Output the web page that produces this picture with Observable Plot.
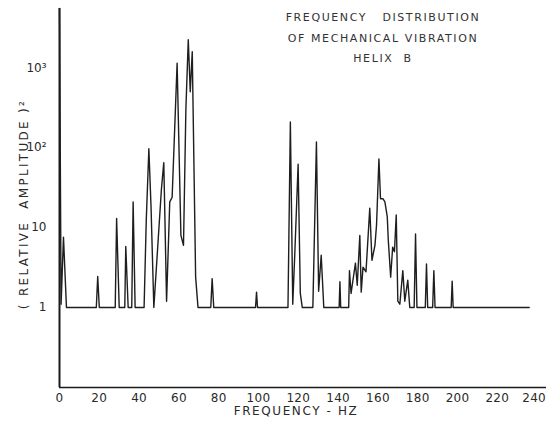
<!DOCTYPE html>
<html><head><meta charset="utf-8">
<script src="https://cdn.jsdelivr.net/npm/d3@7"></script>
<script src="https://cdn.jsdelivr.net/npm/@observablehq/plot@0.6"></script>
<style>
body{margin:0;background:#fff;}
#wrap{position:relative;width:547px;height:429px;overflow:hidden;}
.title{position:absolute;left:233px;width:300px;top:8px;text-align:center;font:11px "DejaVu Sans",sans-serif;letter-spacing:1.6px;color:#333;line-height:20.5px;white-space:pre;}
svg text{fill:#2a2a2a;}
g[aria-label="y-axis label"] text{letter-spacing:2.3px;}
g[aria-label="x-axis label"] text{letter-spacing:1.6px;}
g[aria-label="x-axis tick label"] text{letter-spacing:0.3px;}
</style></head>
<body><div id="wrap"><div class="title">FREQUENCY   DISTRIBUTION
OF MECHANICAL VIBRATION
HELIX  B</div></div>
<script>
// frequency (Hz) and relative amplitude squared
const freq = [0, 0.8, 2, 3.5, 18.5, 19.2, 20, 28, 28.7, 30, 32.8, 33.3, 34.5, 36.3, 37, 38,
  42.5, 43.6, 44.9, 46, 47.4, 51.2, 52.4, 53.8, 55.4, 56.6, 59.1, 61, 62.3, 63.5, 64.7, 65.7, 66.7, 68.4, 69.6,
  76, 76.7, 77.5, 98.5, 99, 99.5,
  114.8, 116, 117.2, 118.2, 119.9, 121, 122, 127.3, 129.1, 130.2, 131.5, 132.8,
  140.5, 140.9, 141.3, 145.3, 145.7, 146.5, 148.7, 149.6, 150.9, 151.6, 152.5, 154, 155.9, 157, 158.5, 159.3,
  160.5, 161.3, 162.5, 163.5, 164.7, 165.2, 166.4, 167.4, 168.3, 169.2, 170, 171, 172.5, 173.5, 175, 176,
  178.2, 178.9, 179.6, 183.8, 184.4, 185, 187.5, 188.1, 188.7, 196.8, 197.3, 197.8, 236];
const amp = [5500, 1.1, 7.6, 1, 1, 2.45, 1, 1, 13, 1, 1, 5.8, 1, 1, 21, 1,
  1, 12.4, 97, 18, 1, 30, 65, 1.2, 21, 24, 1140, 8, 6, 300, 2240, 500, 1580, 2.4, 1,
  1, 2.3, 1, 1, 1.56, 1,
  1, 209, 1.1, 4.5, 62, 1.5, 1, 1, 118, 1.6, 4.5, 1,
  1, 2.1, 1, 1, 2.9, 1.5, 3.6, 1.9, 8, 1.56, 3.2, 2.8, 17.5, 3.9, 6, 10.8,
  72, 23, 23, 21, 13.6, 7, 2.4, 5.7, 5, 14.4, 1.2, 1.1, 2.9, 1.2, 2.2, 1,
  1, 8.3, 1, 1, 3.5, 1, 1, 2.9, 1, 1, 2.14, 1, 1];
const xTicks = [0, 20, 40, 60, 80, 100, 120, 140, 160, 180, 200, 220, 240];
const yTicks = [1, 10, 100, 1000];
const yTickLabels = ["1", "10", "10²", "10³"];

const data = freq.map((f, i) => ({f, v: amp[i]}));

const chart = Plot.plot({
  width: 547, height: 429,
  marginLeft: 59, marginRight: 1, marginTop: 8, marginBottom: 42,
  style: {fontFamily: "'DejaVu Sans', sans-serif", fontSize: "12px", background: "#fff", color: "#2a2a2a"},
  x: {domain: [0, 244.7]},
  y: {type: "log", domain: [0.1, 5500]},
  marks: [
    Plot.axisX({ticks: xTicks, tickSize: 0, tickPadding: 6, tickFormat: d => String(d),
      label: "FREQUENCY - HZ", labelAnchor: "center", labelArrow: "none", labelOffset: 27}),
    Plot.axisY({ticks: yTicks, tickSize: 0, tickPadding: 13,
      tickFormat: d => yTickLabels[yTicks.indexOf(d)],
      label: "( RELATIVE  AMPLITUDE )²", labelAnchor: "center", labelArrow: "none", labelOffset: 40}),
    Plot.ruleX([0], {stroke: "#1a1a1a", strokeWidth: 2}),
    Plot.ruleY([0.1], {stroke: "#1a1a1a", strokeWidth: 1.6}),
    Plot.line(data, {x: "f", y: "v", stroke: "#1e1e1e", strokeWidth: 1.4})
  ]
});
// small label nudges to match the reference's hand lettering
const xt = chart.querySelectorAll('g[aria-label="x-axis tick label"] text');
if (xt.length) xt[xt.length - 1].setAttribute("dx", "-3");
const xl = chart.querySelector('g[aria-label="x-axis label"] text');
if (xl) xl.setAttribute("dx", "-7");
const yl = chart.querySelector('g[aria-label="y-axis label"] text');
if (yl) yl.setAttribute("dx", "-6");
document.getElementById("wrap").prepend(chart);
</script>
</body></html>
